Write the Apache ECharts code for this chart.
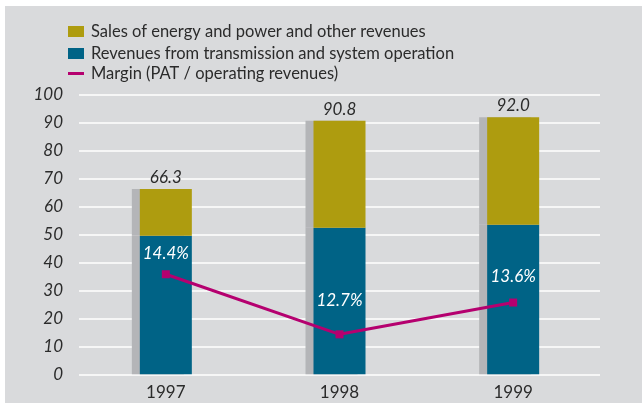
<!DOCTYPE html>
<html>
<head>
<meta charset="utf-8">
<script src="https://cdn.jsdelivr.net/npm/echarts@6/dist/echarts.min.js"></script>
<style>
  html, body { margin: 0; padding: 0; background: #ffffff; }
  #wrap { position: relative; width: 642px; height: 403px; background: #ffffff; }
  #bg { position: absolute; left: 5px; top: 6px; right: 0; bottom: 0; background: #d9dadc; }
  #chart { position: absolute; left: 0; top: 0; width: 642px; height: 403px; }
</style>
</head>
<body>
<div id="wrap"><div id="bg"></div><div id="chart"></div></div>
<script>
const categories = ['1997', '1998', '1999'];
const totals = [66.3, 90.8, 92.0];
const transmission = [49.6, 52.5, 53.5];
const salesOther = [16.7, 38.3, 38.5];
const margin = [14.4, 12.7, 13.6];
const marginLabels = ['14.4%', '12.7%', '13.6%'];
const yTicks = [0, 10, 20, 30, 40, 50, 60, 70, 80, 90, 100];

const FONT = 'Lato';
const TEXT = '#2b2b2b';
const BLUE = '#006386';
const OLIVE = '#ae9c0f';
const MAGENTA = '#b5006f';
const SHADOW = '#b4b5b8';

const chart = echarts.init(document.getElementById('chart'), null, { renderer: 'canvas' });

const labelDistances = [8, 21, 14];

chart.setOption({
  backgroundColor: 'transparent',
  animation: false,
  textStyle: { fontFamily: FONT },
  legend: [
    {
      orient: 'vertical',
      left: 63,
      top: 18,
      itemWidth: 16,
      itemHeight: 11,
      itemGap: 5,
      icon: 'rect',
      textStyle: { fontFamily: FONT, fontSize: 16.5, color: TEXT, padding: [0, 0, 0, 2] },
      data: ['Sales of energy and power and other revenues', 'Revenues from transmission and system operation'],
      selectedMode: false
    },
    {
      orient: 'vertical',
      left: 63,
      top: 60,
      itemWidth: 16,
      itemHeight: 3,
      icon: 'rect',
      textStyle: { fontFamily: FONT, fontSize: 16.5, color: TEXT, padding: [0, 0, 0, 2] },
      data: [{ name: 'Margin (PAT / operating revenues)', itemStyle: { color: MAGENTA } }],
      selectedMode: false
    }
  ],
  grid: { left: 79, right: 42, top: 95, bottom: 28.7 },
  xAxis: {
    type: 'category',
    data: categories,
    axisLine: { show: false },
    axisTick: { show: false },
    axisLabel: { fontFamily: FONT, fontSize: 17, color: TEXT, margin: 10 }
  },
  yAxis: [
    {
      type: 'value',
      min: yTicks[0],
      max: yTicks[yTicks.length - 1],
      interval: 10,
      axisLine: { show: false },
      axisTick: { show: false },
      splitLine: { lineStyle: { color: '#ffffff', width: 1.6 } },
      axisLabel: { fontFamily: FONT, fontSize: 17, fontStyle: 'italic', color: TEXT, margin: 16 }
    },
    {
      type: 'value',
      min: 11.57,
      max: 19.47,
      show: false,
      splitLine: { show: false }
    }
  ],
  series: [
    {
      name: 'Revenues from transmission and system operation',
      type: 'bar',
      stack: 'rev',
      barWidth: 52,
      data: transmission,
      itemStyle: { color: BLUE, shadowColor: SHADOW, shadowOffsetX: -8, shadowOffsetY: 0, shadowBlur: 0 },
      emphasis: { disabled: true }
    },
    {
      name: 'Sales of energy and power and other revenues',
      type: 'bar',
      stack: 'rev',
      barWidth: 52,
      data: salesOther,
      itemStyle: { color: OLIVE, shadowColor: SHADOW, shadowOffsetX: -8, shadowOffsetY: 0, shadowBlur: 0 },
      label: {
        show: true,
        position: 'top',
        distance: 3,
        fontFamily: FONT,
        fontSize: 17,
        fontStyle: 'italic',
        color: TEXT,
        formatter: p => totals[p.dataIndex].toFixed(1)
      },
      emphasis: { disabled: true }
    },
    {
      name: 'Margin (PAT / operating revenues)',
      type: 'line',
      yAxisIndex: 1,
      data: margin.map((v, i) => ({
        value: v,
        label: { distance: labelDistances[i] }
      })),
      symbol: 'rect',
      symbolSize: 8,
      lineStyle: { color: MAGENTA, width: 3 },
      itemStyle: { color: MAGENTA },
      label: {
        show: true,
        position: 'top',
        fontFamily: FONT,
        fontSize: 17,
        fontStyle: 'italic',
        color: '#ffffff',
        formatter: p => marginLabels[p.dataIndex]
      },
      z: 5,
      emphasis: { disabled: true }
    }
  ]
});
</script>
</body>
</html>
